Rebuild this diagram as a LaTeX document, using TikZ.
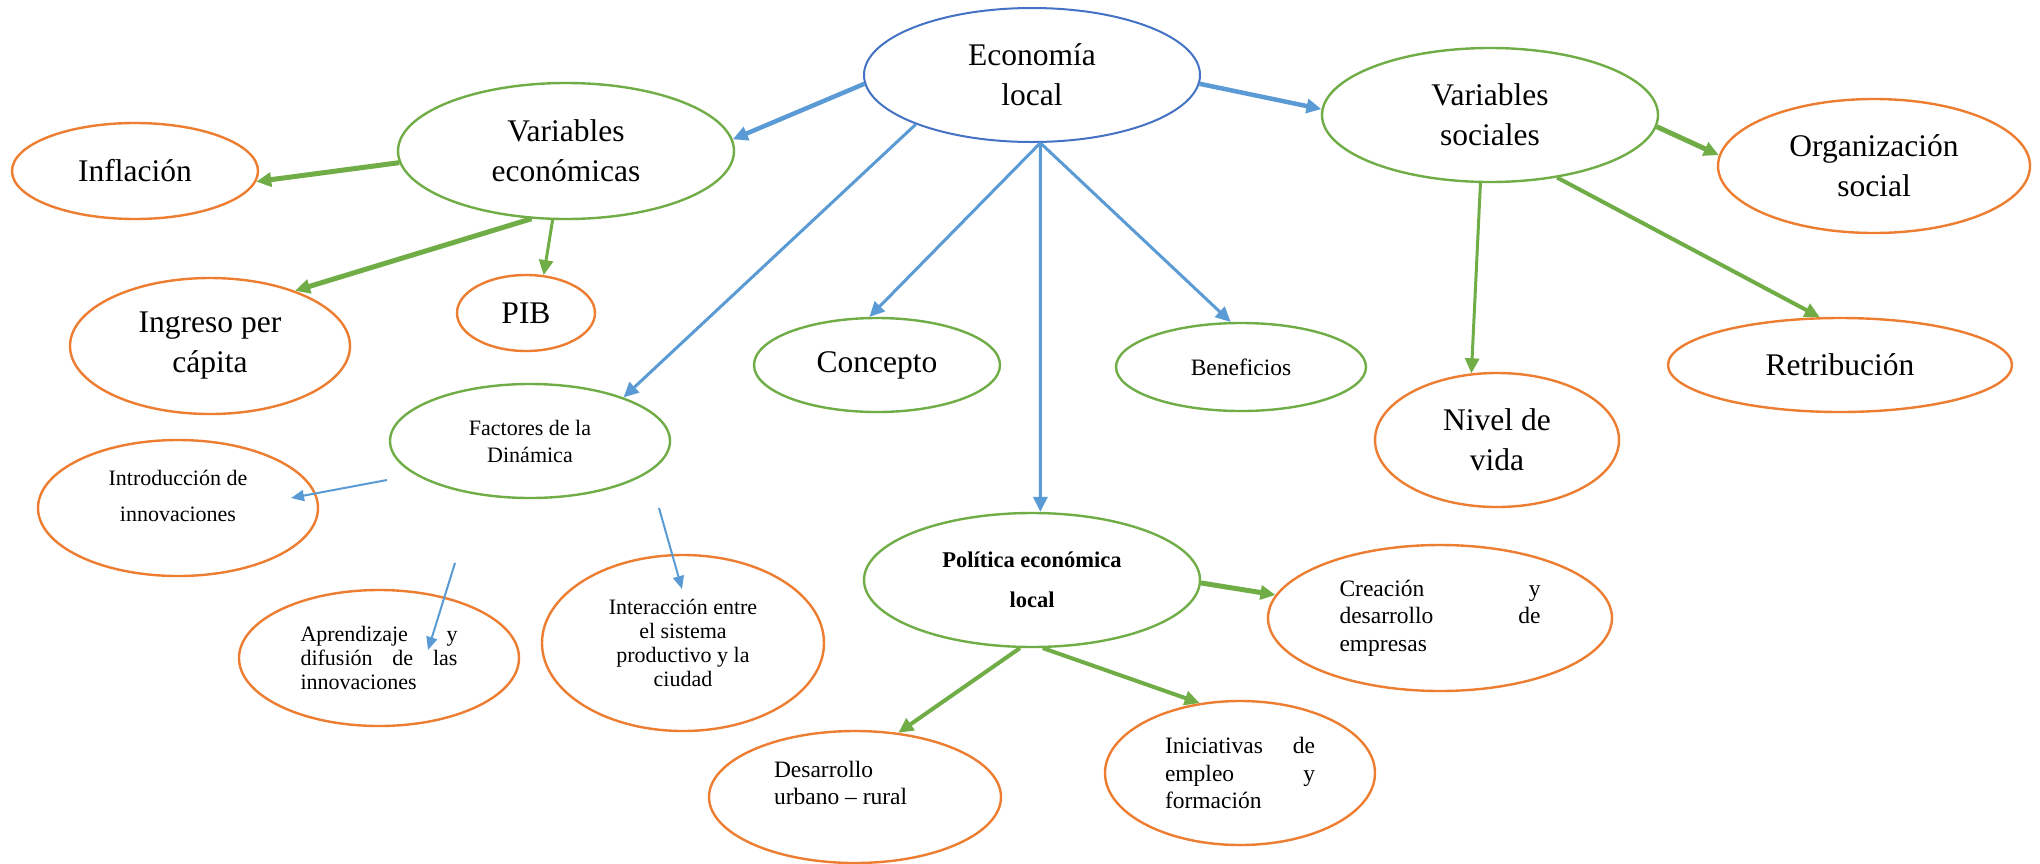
\documentclass[tikz,border=0pt]{standalone}
\usepackage{fontspec}
\setmainfont{Liberation Serif}
\usetikzlibrary{arrows.meta,shapes.geometric}
\definecolor{ecoblue}{HTML}{4472C4}
\definecolor{lgreen}{HTML}{70AD47}
\definecolor{lorange}{HTML}{ED7D31}
\definecolor{abblue}{HTML}{5B9BD5}
\newcommand{\liftup}[2]{\raisebox{#1}[\dimexpr\height-#1\relax][\dimexpr\depth+#1\relax]{#2}}
\begin{document}
\begin{tikzpicture}[x=1pt,y=-1pt,
  ell/.style={ellipse, draw, line width=2.4pt, inner sep=0pt, align=center},
  og/.style={ell, draw=lorange},
  gr/.style={ell, draw=lgreen},
  big/.style={font=\fontsize{31.5}{40}\selectfont},
  bl/.style={draw=abblue, -{Triangle[length=15pt,width=14pt]}},
  gl/.style={draw=lgreen, -{Triangle[length=15pt,width=14pt]}},
  tl/.style={draw=abblue, line width=2pt, -{Triangle[length=13pt,width=11pt]}}
]
\fill[white] (0,0) rectangle (2040,863);
\useasboundingbox (0,0) rectangle (2040,863);

% central
\node[ell, draw=ecoblue, line width=2pt, big, minimum width=336pt, minimum height=134pt] (eco) at (1032,75) {Economía\\local};

% green level
\node[gr, big, minimum width=336pt, minimum height=136pt] (ve) at (566,151) {Variables\\económicas};
\node[gr, big, minimum width=336pt, minimum height=134pt] (vs) at (1490,115) {Variables\\sociales};
\node[gr, big, minimum width=246pt, minimum height=94pt] (con) at (877,365) {Concepto};
\node[gr, font=\fontsize{23.5}{28}\selectfont, minimum width=250pt, minimum height=88pt] (ben) at (1241,367) {Beneficios};
\node[gr, font=\fontsize{22}{27}\selectfont, minimum width=280pt, minimum height=114pt] (fac) at (530,441) {Factores de la\\Dinámica};
\node[gr, font=\fontsize{22.5}{40}\selectfont\bfseries, minimum width=336pt, minimum height=134pt] (pol) at (1032,580) {Política económica\\local};

% orange leaves
\node[og, big, minimum width=246pt, minimum height=96pt] (inf) at (135,171) {Inflación};
\node[og, big, minimum width=280pt, minimum height=136pt] (ing) at (210,346) {Ingreso per\\cápita};
\node[og, big, minimum width=138pt, minimum height=76pt] (pib) at (526,313) {PIB};
\node[og, big, minimum width=312pt, minimum height=134pt] (org) at (1874,166) {Organización\\social};
\node[og, big, minimum width=344pt, minimum height=94pt] (ret) at (1840,365) {Retribución};
\node[og, big, minimum width=244pt, minimum height=134pt] (niv) at (1497,440) {Nivel de\\vida};

\node[og, font=\fontsize{22}{36}\selectfont, minimum width=280pt, minimum height=136pt] (intro) at (178,508)
  {\liftup{6pt}{\parbox{170pt}{\centering Introducción de\\innovaciones}}};
\node[og, font=\fontsize{22}{24}\selectfont, minimum width=280pt, minimum height=136pt] (apr) at (379,658)
  {\parbox{157pt}{Aprendizaje\hfill y\\difusión\hfill de\hfill las\\innovaciones}};
\node[og, font=\fontsize{22}{24}\selectfont, minimum width=282pt, minimum height=176pt] (int) at (683,643) {Interacción entre\\el sistema\\productivo y la\\ciudad};
\node[og, font=\fontsize{23.5}{26.5}\selectfont, minimum width=292pt, minimum height=132pt] (des) at (855,797)
  {\liftup{7pt}{\parbox{162pt}{Desarrollo\\urbano – rural}}};
\node[og, font=\fontsize{23.5}{27.5}\selectfont, minimum width=344pt, minimum height=146pt] (cre) at (1440,618)
  {\parbox{201pt}{Creación\hfill y\\desarrollo\hfill de\\empresas}};
\node[og, font=\fontsize{23.5}{27.5}\selectfont, minimum width=270pt, minimum height=144pt] (ini) at (1240,773)
  {\parbox{150pt}{Iniciativas\hfill de\\empleo\hfill y\\formación}};

% blue connectors from the centre
\draw[bl, line width=4.5pt] (eco.183) -- (ve.4);
\draw[bl, line width=3pt] (eco.203) -- (fac.25);
\draw[bl, line width=3pt] (eco.277) -- (con.99);
\draw[bl, line width=3pt] (eco.277) -- (ben.103);
\draw[bl, line width=3pt] (eco.277) -- (pol.83);
\draw[bl, line width=4.5pt] (eco.357) -- (vs.178);

% green connectors
\draw[gl, line width=5pt] (ve.184) -- (inf.355);
\draw[gl, line width=5pt] (ve.243) -- (ing.33);
\draw[gl, line width=3pt] (ve.259) -- (pib.65);
\draw[gl, line width=5pt] (vs.356) -- (org.176);
\draw[gl, line width=3pt] (vs.262) -- (niv.111);
\draw[gl, line width=4pt] (vs.317) -- (ret.113);
\draw[gl, line width=5pt] (pol.359) -- (cre.172);
\draw[gl, line width=4pt] (pol.279) -- (ini.120);
\draw[gl, line width=4pt] (pol.260) -- (des.56);

% thin free-standing blue arrows
\coordinate (s1) at (387,480); \coordinate (t1) at (291,498);
\coordinate (s2) at (455,563); \coordinate (t2) at (428,650);
\coordinate (s3) at (659,508); \coordinate (t3) at (682,589);
\draw[tl] (s1) -- (t1);
\draw[tl] (s2) -- (t2);
\draw[tl] (s3) -- (t3);
\end{tikzpicture}
\end{document}
